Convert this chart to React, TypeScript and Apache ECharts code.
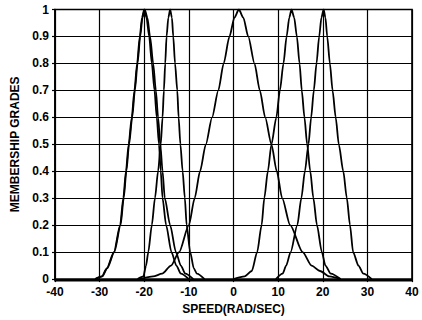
import React, { useEffect, useRef } from "react";
import * as echarts from "echarts";

// X axis: speed (rad/sec), Y axis: membership grade
const xTicks = [-40, -30, -20, -10, 0, 10, 20, 30, 40];
const yTicks = [0, 0.1, 0.2, 0.3, 0.4, 0.5, 0.6, 0.7, 0.8, 0.9, 1];

// Membership curves: [speed, grade]
const curveA1 = [
  [-31, 0], [-29.5, 0.01], [-28.4, 0.04], [-26.8, 0.1], [-25.4, 0.2], [-24.7, 0.3], [-24.1, 0.4],
  [-23.5, 0.5], [-22.8, 0.6], [-22.2, 0.7], [-21.6, 0.8], [-21.0, 0.9], [-20.5, 0.97], [-20, 1],
  [-19.5, 0.97], [-18.9, 0.9], [-18.3, 0.8], [-17.7, 0.7], [-17.2, 0.6], [-16.7, 0.5], [-16.3, 0.4],
  [-15.9, 0.3], [-15.1, 0.2], [-13.9, 0.1], [-12.8, 0.05], [-11.8, 0.02], [-10, 0],
];
const curveA2 = [
  [-31, 0], [-29.4, 0.01], [-28.3, 0.04], [-26.7, 0.1], [-25.3, 0.2], [-24.6, 0.3], [-24.0, 0.4],
  [-23.4, 0.5], [-22.7, 0.6], [-22.1, 0.7], [-21.5, 0.8], [-20.9, 0.9], [-20.4, 0.97], [-19.9, 1],
  [-19.3, 0.97], [-18.7, 0.9], [-18.0, 0.8], [-17.4, 0.7], [-16.9, 0.6], [-16.4, 0.5], [-15.9, 0.4],
  [-15.4, 0.3], [-14.2, 0.2], [-12.9, 0.1], [-11.8, 0.05], [-10.8, 0.02], [-9, 0],
];
const curveB = [
  [-21.5, 0], [-20.2, 0.01], [-19.6, 0.05], [-19.1, 0.1], [-18.3, 0.2], [-17.6, 0.3], [-16.9, 0.4],
  [-16.3, 0.5], [-15.9, 0.6], [-15.6, 0.7], [-15.3, 0.8], [-15.0, 0.9], [-14.6, 0.97], [-14.2, 1],
  [-13.8, 0.97], [-13.5, 0.9], [-13.1, 0.8], [-12.6, 0.7], [-12.3, 0.6], [-11.9, 0.5], [-11.4, 0.4],
  [-10.9, 0.3], [-10.5, 0.2], [-9.7, 0.1], [-8.9, 0.04], [-8.2, 0.02], [-6.5, 0],
];
const curveC = [
  [-21, 0], [-18, 0.01], [-16, 0.02], [-14, 0.05], [-12.2, 0.1], [-10, 0.2], [-8.7, 0.3],
  [-7.5, 0.4], [-6.2, 0.5], [-4.8, 0.6], [-3.4, 0.7], [-2.2, 0.8], [-0.9, 0.9], [0.2, 0.97], [1.2, 1],
  [2.2, 0.97], [3.3, 0.9], [4.7, 0.8], [5.9, 0.7], [7.1, 0.6], [8.5, 0.5], [9.7, 0.4], [10.9, 0.3],
  [12.7, 0.2], [15.5, 0.1], [17.5, 0.05], [19.4, 0.03], [21.5, 0.01], [24, 0],
];
const curveD = [
  [0, 0], [2.5, 0.01], [4.1, 0.03], [5.3, 0.1], [6.3, 0.2], [6.9, 0.3], [7.7, 0.4], [8.5, 0.5],
  [9.6, 0.6], [10.4, 0.7], [11.2, 0.8], [11.9, 0.9], [12.5, 0.97], [13.0, 1], [13.6, 0.97],
  [14.2, 0.9], [14.8, 0.8], [15.3, 0.7], [15.9, 0.6], [16.5, 0.5], [17.2, 0.4], [17.9, 0.3],
  [18.7, 0.2], [19.8, 0.1], [20.6, 0.05], [21.8, 0.02], [24, 0],
];
const curveE = [
  [9.5, 0], [11, 0.02], [11.8, 0.05], [12.8, 0.1], [14.3, 0.2], [15.2, 0.3], [16.0, 0.4], [16.8, 0.5],
  [17.4, 0.6], [18.0, 0.7], [18.6, 0.8], [19.2, 0.9], [19.7, 0.97], [20.2, 1], [20.6, 0.97],
  [21.0, 0.9], [21.6, 0.8], [22.2, 0.7], [22.9, 0.6], [23.6, 0.5], [24.6, 0.4], [25.4, 0.3],
  [26.1, 0.2], [26.8, 0.1], [28.0, 0.05], [29.1, 0.02], [31, 0],
];

const curves = [curveA1, curveA2, curveB, curveC, curveD, curveE];

const FONT = "'Liberation Sans', Arial, sans-serif";

export default function App() {
  const ref = useRef<HTMLDivElement>(null);
  useEffect(() => {
    if (!ref.current) return;
    const chart = echarts.init(ref.current, null, { renderer: "svg" });
    const textStyle = { color: "#000", fontFamily: FONT, fontWeight: "bold" as const, fontSize: 12 };
    chart.setOption({
      animation: false,
      backgroundColor: "#fff",
      grid: { left: 55, right: 10, top: 9.5, bottom: 39.3, containLabel: false },
      xAxis: {
        type: "value",
        min: xTicks[0],
        max: xTicks[xTicks.length - 1],
        interval: 10,
        name: "SPEED(RAD/SEC)",
        nameLocation: "middle",
        nameGap: 23,
        nameTextStyle: { ...textStyle },
        axisLine: { show: true, onZero: false, lineStyle: { color: "#000", width: 1.6 } },
        axisTick: { show: true, length: 3, lineStyle: { color: "#000", width: 1.2 } },
        axisLabel: { ...textStyle, margin: 7, lineHeight: 12 },
        splitLine: { show: true, lineStyle: { color: "#000", width: 1.2 } },
      },
      yAxis: {
        type: "value",
        min: yTicks[0],
        max: yTicks[yTicks.length - 1],
        interval: 0.1,
        name: "MEMBERSHIP GRADES",
        nameLocation: "middle",
        nameRotate: 90,
        nameGap: 32,
        nameTextStyle: { ...textStyle },
        axisLine: { show: true, onZero: false, lineStyle: { color: "#000", width: 1.6 } },
        axisTick: { show: true, length: 3, lineStyle: { color: "#000", width: 1.2 } },
        axisLabel: { ...textStyle, margin: 6, lineHeight: 12 },
        splitLine: { show: true, lineStyle: { color: "#000", width: 1.2 } },
      },
      series: curves.map((c) => ({
        type: "line",
        data: c,
        showSymbol: false,
        smooth: 0.25,
        smoothMonotone: "x",
        lineStyle: { color: "#000", width: 1.8 },
        silent: true,
      })),
      graphic: [
        {
          type: "rect",
          shape: { x: 55, y: 9.5, width: 357, height: 271.2 },
          style: { fill: "none", stroke: "#000", lineWidth: 1.6 },
          silent: true,
        },
      ],
    });
    return () => chart.dispose();
  }, []);
  return (
    <div
      ref={ref}
      style={{ position: "fixed", left: 0, top: 0, width: 422, height: 320, background: "#fff" }}
    />
  );
}
